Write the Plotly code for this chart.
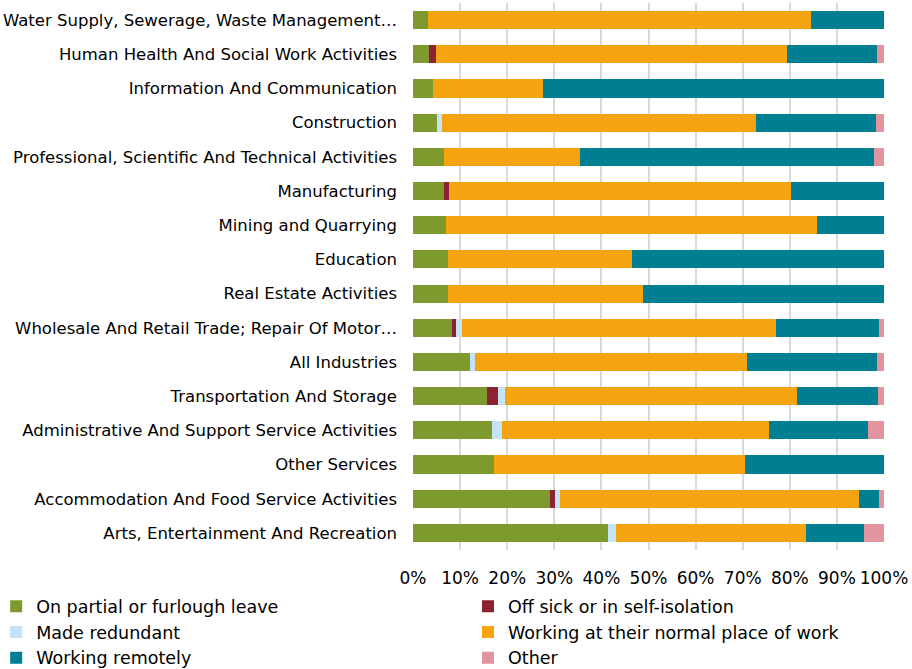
import plotly.graph_objects as go

categories = [
    "Water Supply, Sewerage, Waste Management…",
    "Human Health And Social Work Activities",
    "Information And Communication",
    "Construction",
    "Professional, Scientific And Technical Activities",
    "Manufacturing",
    "Mining and Quarrying",
    "Education",
    "Real Estate Activities",
    "Wholesale And Retail Trade; Repair Of Motor…",
    "All Industries",
    "Transportation And Storage",
    "Administrative And Support Service Activities",
    "Other Services",
    "Accommodation And Food Service Activities",
    "Arts, Entertainment And Recreation",
]

furlough   = [3.1, 3.4, 4.3, 5.0, 6.5, 6.6, 7.1, 7.4, 7.4, 8.2, 12.0, 15.8, 16.8, 17.2, 29.1, 41.4]
sick       = [0.0, 1.4, 0.0, 0.0, 0.0, 1.0, 0.0, 0.0, 0.0, 0.9, 0.0, 2.2, 0.0, 0.0, 1.0, 0.0]
redundant  = [0.0, 0.0, 0.0, 1.1, 0.0, 0.0, 0.0, 0.0, 0.0, 1.2, 1.1, 1.6, 2.0, 0.0, 1.1, 1.7]
normal     = [81.5, 74.7, 23.4, 66.7, 29.0, 72.6, 78.6, 39.2, 41.4, 66.7, 57.8, 62.0, 56.7, 53.2, 63.5, 40.4]
remote     = [15.4, 19.0, 72.3, 25.5, 62.4, 19.8, 14.3, 53.4, 51.2, 21.9, 27.6, 17.1, 21.2, 29.6, 4.2, 12.2]
other      = [0.0, 1.5, 0.0, 1.7, 2.1, 0.0, 0.0, 0.0, 0.0, 1.1, 1.5, 1.3, 3.3, 0.0, 1.1, 4.3]

# (name, values, colour, legend column)
series = [
    ("On partial or furlough leave", furlough, "#7E9A2E", "legend"),
    ("Off sick or in self-isolation", sick, "#8B2332", "legend2"),
    ("Made redundant", redundant, "#C5E3F6", "legend"),
    ("Working at their normal place of work", normal, "#F5A30F", "legend2"),
    ("Working remotely", remote, "#007F93", "legend"),
    ("Other", other, "#E2949F", "legend2"),
]

tick_vals = [0, 10, 20, 30, 40, 50, 60, 70, 80, 90, 100]
tick_text = ["0%", "10%", "20%", "30%", "40%", "50%", "60%", "70%", "80%", "90%", "100%"]

fig = go.Figure()
for name, vals, color, leg in series:
    fig.add_trace(go.Bar(
        y=categories, x=vals, name=name, orientation="h", legend=leg,
        marker=dict(color=color, line=dict(width=0)),
    ))

legend_common = dict(orientation="v", xanchor="left", y=-0.07, yanchor="top",
                     traceorder="normal", font=dict(size=17.5), itemclick=False,
                     tracegroupgap=0, bgcolor="rgba(0,0,0,0)")

fig.update_layout(
    barmode="stack",
    bargap=0.47,
    width=912, height=669,
    margin=dict(l=413, r=28, t=3, b=119, autoexpand=False),
    paper_bgcolor="white", plot_bgcolor="white",
    font=dict(family="DejaVu Sans, Liberation Sans, Arial, sans-serif", size=16, color="#000000"),
    xaxis=dict(range=[0, 100], tickvals=tick_vals, ticktext=tick_text,
               showgrid=True, gridcolor="#D9D9D9", gridwidth=1.5,
               zeroline=False, showline=False, ticks="", fixedrange=True,
               automargin=False, tickfont=dict(size=17), ticklabelstandoff=16),
    yaxis=dict(autorange="reversed", showgrid=False, ticks="", showline=False,
               automargin=False, tickfont=dict(size=16.5), ticklabelstandoff=15,
               fixedrange=True),
    legend=dict(x=-0.885, **legend_common),
    legend2=dict(x=(468 - 413) / 471, **legend_common),
    showlegend=True,
)

fig.write_html("out.html", config={"displayModeBar": False},
               post_script="document.body.style.margin='0';document.body.style.padding='0';")
